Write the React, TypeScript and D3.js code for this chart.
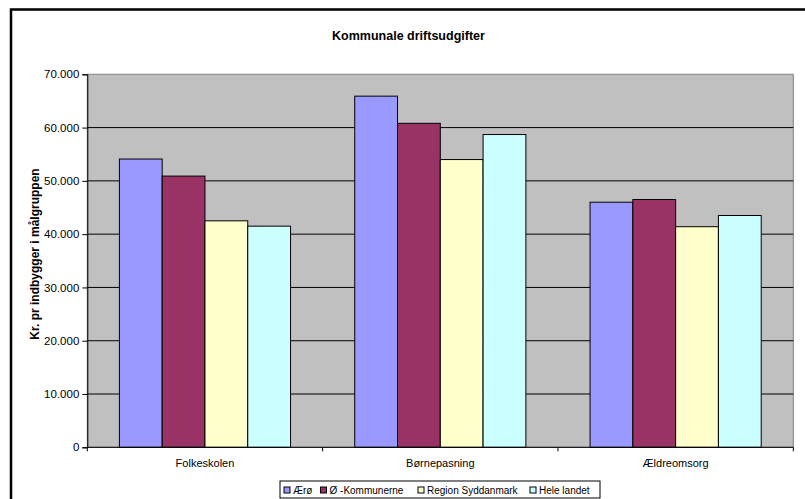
import * as d3 from "d3";
import { useEffect, useRef } from "react";

const categories = ["Folkeskolen", "Børnepasning", "Ældreomsorg"];
const seriesNames = ["Ærø", "Ø -Kommunerne", "Region Syddanmark", "Hele landet"];
const seriesColors = ["#9999FF", "#993366", "#FFFFCC", "#CCFFFF"];
// values per series, in category order
const aeroe = [54100, 65900, 46000];
const oeKommunerne = [50900, 60800, 46500];
const regionSyddanmark = [42500, 54000, 41400];
const heleLandet = [41500, 58700, 43500];
const yTicks = [0, 10000, 20000, 30000, 40000, 50000, 60000, 70000];

const width = 805;
const height = 499;
const font = "Arial, 'Liberation Sans', Helvetica, sans-serif";

export default function App() {
  const svgRef = useRef<SVGSVGElement>(null);

  useEffect(() => {
    const svg = d3.select(svgRef.current);
    svg.selectAll("*").remove();

    const series = [aeroe, oeKommunerne, regionSyddanmark, heleLandet];
    const plot = { left: 87.3, top: 74.3, right: 793.3, bottom: 447.3 };

    // outer frame (runs off the right and bottom of the picture)
    svg
      .append("rect")
      .attr("x", 11)
      .attr("y", 9.5)
      .attr("width", width)
      .attr("height", height)
      .attr("fill", "#fff")
      .attr("stroke", "#000")
      .attr("stroke-width", 2.5);

    const x0 = d3
      .scaleBand<string>()
      .domain(categories)
      .range([plot.left, plot.right]);
    // gap width 150% of a bar
    const x1 = d3
      .scaleBand<number>()
      .domain(d3.range(series.length))
      .range([0, x0.bandwidth()])
      .paddingOuter(0.75)
      .paddingInner(0);
    const y = d3.scaleLinear().domain([0, 70000]).range([plot.bottom, plot.top]);

    // plot area
    svg
      .append("rect")
      .attr("x", plot.left)
      .attr("y", plot.top)
      .attr("width", plot.right - plot.left)
      .attr("height", plot.bottom - plot.top)
      .attr("fill", "#C0C0C0")
      .attr("stroke", "#808080")
      .attr("stroke-width", 1);

    // gridlines
    svg
      .append("g")
      .selectAll("line")
      .data(yTicks.filter((t) => t > 0 && t < 70000))
      .join("line")
      .attr("x1", plot.left)
      .attr("x2", plot.right)
      .attr("y1", (d) => y(d))
      .attr("y2", (d) => y(d))
      .attr("stroke", "#000")
      .attr("stroke-width", 1);

    // bars
    const groups = svg
      .append("g")
      .selectAll("g")
      .data(categories)
      .join("g")
      .attr("transform", (c) => `translate(${x0(c)},0)`);
    groups
      .selectAll("rect")
      .data((c, ci) => series.map((s, si) => ({ si, v: s[ci] })))
      .join("rect")
      .attr("x", (d) => x1(d.si)!)
      .attr("y", (d) => y(d.v))
      .attr("width", x1.bandwidth())
      .attr("height", (d) => y(0) - y(d.v))
      .attr("fill", (d) => seriesColors[d.si])
      .attr("stroke", "#000")
      .attr("stroke-width", 1);

    // y axis
    const yAxis = d3
      .axisLeft(y)
      .tickValues(yTicks)
      .tickSize(5)
      .tickPadding(3)
      .tickFormat((d) => (d === 0 ? "0" : d3.format(",")(d as number).replace(/,/g, ".")));
    const ya = svg
      .append("g")
      .attr("transform", `translate(${plot.left},0)`)
      .call(yAxis);
    ya.selectAll("path, line").attr("stroke", "#000");
    ya.selectAll("text")
      .attr("font-family", font)
      .attr("font-size", 11.5)
      .attr("fill", "#000");

    // x axis
    const xa = svg
      .append("g")
      .attr("transform", `translate(0,${plot.bottom})`);
    xa.append("line")
      .attr("x1", plot.left)
      .attr("x2", plot.right)
      .attr("stroke", "#000");
    xa.selectAll("line.tick")
      .data(d3.range(categories.length + 1))
      .join("line")
      .attr("class", "tick")
      .attr("x1", (i) => plot.left + i * x0.step())
      .attr("x2", (i) => plot.left + i * x0.step())
      .attr("y2", 4)
      .attr("stroke", "#000");
    xa.selectAll("text")
      .data(categories)
      .join("text")
      .attr("x", (c) => x0(c)! + x0.bandwidth() / 2)
      .attr("y", 20)
      .attr("text-anchor", "middle")
      .attr("font-family", font)
      .attr("font-size", 11)
      .text((c) => c);

    // title
    svg
      .append("text")
      .attr("x", 408.5)
      .attr("y", 39.5)
      .attr("text-anchor", "middle")
      .attr("font-family", font)
      .attr("font-size", 12.5)
      .attr("font-weight", "bold")
      .text("Kommunale driftsudgifter");

    // y label
    svg
      .append("text")
      .attr("transform", `translate(39,254) rotate(-90)`)
      .attr("text-anchor", "middle")
      .attr("font-family", font)
      .attr("font-size", 12)
      .attr("font-weight", "bold")
      .text("Kr. pr indbygger i målgruppen");

    // legend
    const legend = svg.append("g");
    const lg = { x: 280, y: 481, w: 320, h: 17 };
    legend
      .append("rect")
      .attr("x", lg.x)
      .attr("y", lg.y)
      .attr("width", lg.w)
      .attr("height", lg.h)
      .attr("fill", "#fff")
      .attr("stroke", "#000")
      .attr("stroke-width", 1);
    const itemX = [284, 320.5, 418, 530];
    seriesNames.forEach((name, i) => {
      legend
        .append("rect")
        .attr("x", itemX[i])
        .attr("y", lg.y + 6)
        .attr("width", 6)
        .attr("height", 6)
        .attr("fill", seriesColors[i])
        .attr("stroke", "#000")
        .attr("stroke-width", 1);
      legend
        .append("text")
        .attr("x", itemX[i] + 9)
        .attr("y", lg.y + 13)
        .attr("font-family", font)
        .attr("font-size", 10)
        .text(name);
    });
  }, []);

  return (
    <svg
      ref={svgRef}
      width={width}
      height={height}
      style={{ position: "absolute", left: 0, top: 0, display: "block" }}
    />
  );
}
